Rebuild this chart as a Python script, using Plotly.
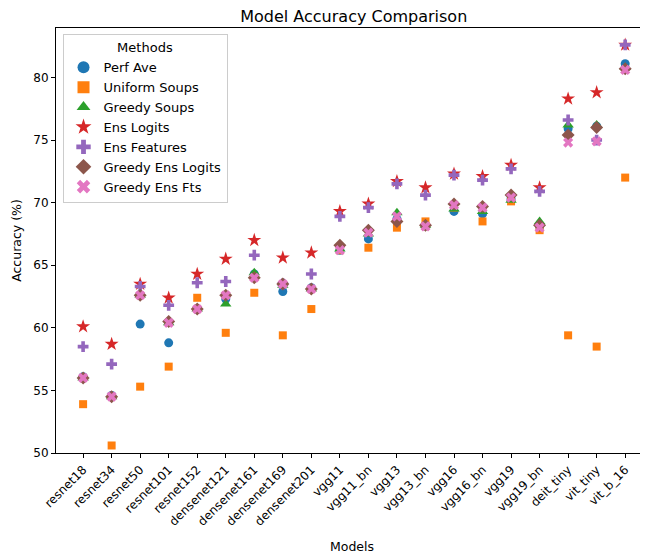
import plotly.graph_objects as go

models = ["resnet18", "resnet34", "resnet50", "resnet101", "resnet152",
          "densenet121", "densenet161", "densenet169", "densenet201",
          "vgg11", "vgg11_bn", "vgg13", "vgg13_bn", "vgg16", "vgg16_bn",
          "vgg19", "vgg19_bn", "deit_tiny", "vit_tiny", "vit_b_16"]

perf_ave = [56.1, 54.6, 60.3, 58.8, 61.5, 62.3, 64.3, 62.9, 63.2,
            66.2, 67.1, 68.7, 68.2, 69.3, 69.1, 70.3, 68.1, 75.9, 76.1, 81.1]
uniform_soups = [53.9, 50.6, 55.3, 56.9, 62.4, 59.6, 62.8, 59.4, 61.5,
                 66.2, 66.4, 68.0, 68.5, 69.6, 68.5, 70.1, 67.8, 59.4, 58.5, 72.0]
greedy_soups = [56.0, 54.5, 62.6, 60.4, 61.5, 61.9, 64.4, 63.4, 63.1,
                66.3, 67.5, 69.2, 68.2, 69.5, 69.3, 70.2, 68.5, 76.2, 76.2, 80.8]
ens_logits = [60.1, 58.7, 63.5, 62.4, 64.3, 65.5, 67.0, 65.6, 66.0,
              69.3, 69.9, 71.7, 71.2, 72.3, 72.1, 73.0, 71.2, 78.3, 78.8, 82.6]
ens_features = [58.5, 57.1, 63.3, 61.8, 63.6, 63.7, 65.8, 63.5, 64.3,
                68.9, 69.6, 71.5, 70.6, 72.2, 71.8, 72.7, 70.9, 76.6, 75.0, 82.6]
greedy_ens_logits = [56.0, 54.5, 62.6, 60.5, 61.5, 62.6, 64.0, 63.5, 63.1,
                     66.6, 67.8, 68.5, 68.2, 69.9, 69.7, 70.6, 68.2, 75.4, 76.0, 80.7]
greedy_ens_fts = [56.0, 54.5, 62.6, 60.4, 61.5, 62.6, 64.0, 63.5, 63.1,
                  66.2, 67.6, 68.9, 68.1, 69.8, 69.6, 70.4, 68.0, 74.8, 74.9, 80.6]

series = [
    ("Perf Ave", perf_ave, "#1f77b4", "circle", 9),
    ("Uniform Soups", uniform_soups, "#ff7f0e", "square", 8),
    ("Greedy Soups", greedy_soups, "#2ca02c", "triangle-up", 10),
    ("Ens Logits", ens_logits, "#d62728", "star", 10.5),
    ("Ens Features", ens_features, "#9467bd", "cross", 9),
    ("Greedy Ens Logits", greedy_ens_logits, "#8c564b", "diamond", 10),
    ("Greedy Ens Fts", greedy_ens_fts, "#e377c2", "x", 9),
]

fig = go.Figure()
for name, vals, color, sym, sz in series:
    fig.add_trace(go.Scatter(
        x=models, y=vals, mode="markers", name=name,
        marker=dict(color=color, symbol=sym, size=sz, line=dict(width=0)),
    ))

font = "DejaVu Sans"
# page body has an 8px margin, so the figure is sized to fit the window
fig.update_layout(
    width=640, height=549,
    margin=dict(l=48, r=0, t=20, b=103.5, autoexpand=False),
    paper_bgcolor="white", plot_bgcolor="white",
    font=dict(family=font, size=12, color="black"),
    title=dict(text="Model Accuracy Comparison", x=0.503, xref="paper",
               xanchor="center", y=0.9855, yanchor="middle",
               font=dict(size=16, family=font, color="black")),
    legend=dict(
        title=dict(text="Methods", side="top center", font=dict(size=13)),
        x=0.011, y=0.985, xanchor="left", yanchor="top",
        bgcolor="rgba(255,255,255,0.8)", bordercolor="#cccccc", borderwidth=1,
        font=dict(size=13), tracegroupgap=0, itemsizing="constant",
    ),
    showlegend=True,
)
fig.update_xaxes(
    type="category", range=[-0.95, 19.8], automargin=False,
    showline=True, mirror=True, linecolor="black", linewidth=1,
    ticks="outside", ticklen=4, tickcolor="black", tickangle=-45,
    showgrid=False, zeroline=False,
    tickfont=dict(size=12),
    title=dict(text="Models", font=dict(size=12.5), standoff=14),
)
fig.update_yaxes(
    range=[50, 83.95], tickvals=[50, 55, 60, 65, 70, 75, 80], automargin=False,
    showline=True, mirror=True, linecolor="black", linewidth=1,
    ticks="outside", ticklen=4, tickcolor="black",
    showgrid=False, zeroline=False,
    tickfont=dict(size=12),
    title=dict(text="Accuracy (%)", font=dict(size=12.5), standoff=8),
)

fig.write_html("out.html")
